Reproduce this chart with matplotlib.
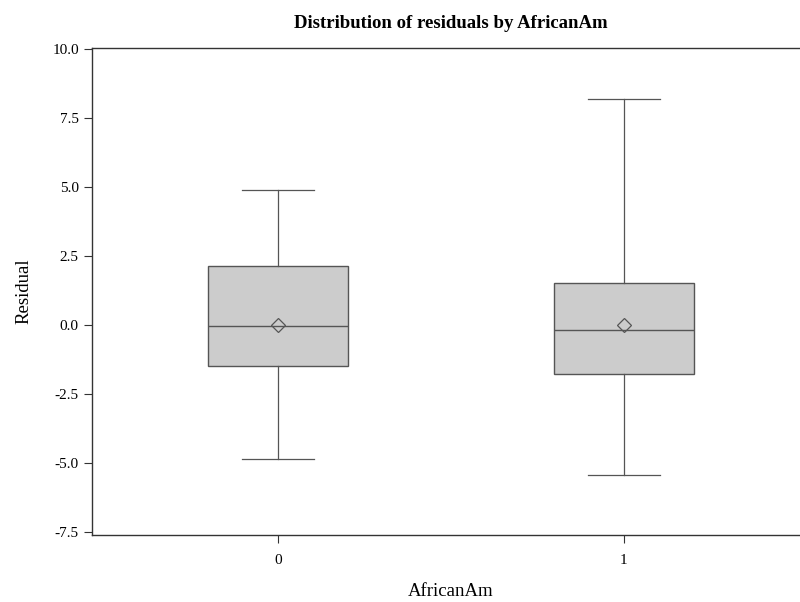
import matplotlib
matplotlib.use("Agg")
import matplotlib.pyplot as plt

# Werte
groups = ["0", "1"]
whislo = [-4.85, -5.45]
q1 = [-1.48, -1.78]
med = [-0.05, -0.17]
q3 = [2.15, 1.52]
whishi = [4.9, 8.2]
means = [0.0, 0.0]
yticks = [-7.5, -5.0, -2.5, 0.0, 2.5, 5.0, 7.5, 10.0]

plt.rcParams['font.family'] = ['Liberation Serif', 'DejaVu Serif']

stats = []
for i in range(len(groups)):
    stats.append({'label': groups[i], 'whislo': whislo[i], 'q1': q1[i], 'med': med[i],
                  'q3': q3[i], 'whishi': whishi[i], 'mean': means[i], 'fliers': []})

fig = plt.figure(figsize=(8, 6.02), dpi=100)
ax = fig.add_axes([0.115, 0.1116, 0.8975, 0.8093])

edge = '#555555'
ax.bxp(stats, positions=[0, 1], widths=0.405, capwidths=0.21, patch_artist=True,
       showmeans=True, showfliers=False,
       boxprops=dict(facecolor='#cccccc', edgecolor=edge, linewidth=1.0),
       medianprops=dict(color=edge, linewidth=1.0),
       whiskerprops=dict(color=edge, linewidth=0.9),
       capprops=dict(color=edge, linewidth=0.9),
       meanprops=dict(marker='D', markerfacecolor='none', markeredgecolor=edge,
                      markersize=7, markeredgewidth=0.9))

ax.set_xlim(-0.538, 1.538)
ax.set_ylim(-7.6, 10.05)
ax.set_yticks(yticks)
ax.set_yticklabels(["%.1f" % v for v in yticks])
ax.set_xticks([0, 1])
ax.set_xticklabels(groups)

for s in ['left', 'bottom', 'top']:
    ax.spines[s].set_color('#333333')
    ax.spines[s].set_linewidth(1.0)
ax.spines['right'].set_visible(False)
ax.tick_params(axis='both', direction='out', length=6, width=0.8, color='#333333',
               labelsize=11)
ax.tick_params(axis='x', pad=8)

ax.set_title("Distribution of residuals by AfricanAm", fontsize=13.5, fontweight='bold', pad=14)
ax.set_xlabel("AfricanAm", fontsize=13.5, labelpad=11)
ax.set_ylabel("Residual", fontsize=13.5, labelpad=14)

fig.savefig("out.png", dpi=100)
